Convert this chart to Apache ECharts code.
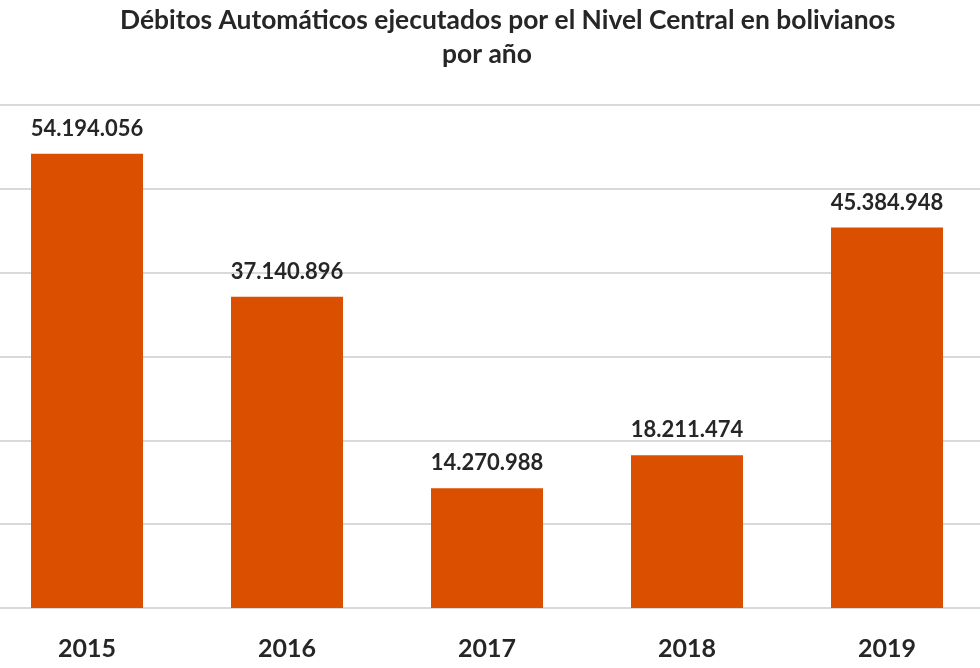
<!DOCTYPE html>
<html>
<head>
<meta charset="utf-8">
<script src="https://cdn.jsdelivr.net/npm/echarts@6/dist/echarts.min.js"></script>
<style>
  html, body { margin: 0; padding: 0; background: #fff; }
  #chart { width: 980px; height: 668px; }
</style>
</head>
<body>
<div id="chart"></div>
<script>
// datos del gráfico
var years = ['2015', '2016', '2017', '2018', '2019'];
var montos = [54194056, 37140896, 14270988, 18211474, 45384948];
var titulo1 = 'Débitos Automáticos ejecutados por el Nivel Central en bolivianos';
var titulo2 = 'por año';

// separador de miles con punto
function fmt(v) {
    return String(v).replace(/\B(?=(\d{3})+(?!\d))/g, '.');
}

var estiloTitulo = {
    fontFamily: 'Lato',
    fontWeight: 'bold',
    fontSize: 26.4,
    color: '#262626'
};

var chart = echarts.init(document.getElementById('chart'));
var option = {
    backgroundColor: '#ffffff',
    animation: false,
    title: [
        { text: titulo1, left: 115, top: 2, textStyle: estiloTitulo },
        { text: titulo2, left: 437, top: 36, textStyle: estiloTitulo }
    ],
    grid: {
        left: -13,
        width: 1000,
        top: 105,
        bottom: 60,
        outerBoundsMode: 'none'
    },
    xAxis: {
        type: 'category',
        data: years,
        axisTick: { show: false },
        axisLine: { lineStyle: { color: '#d9d9d9', width: 2 } },
        axisLabel: {
            margin: 28,
            fontFamily: 'Lato',
            fontWeight: 'bold',
            fontSize: 25,
            color: '#262626'
        }
    },
    yAxis: {
        type: 'value',
        min: 0,
        max: 60000000,
        interval: 10000000,
        axisLabel: { show: false },
        axisLine: { show: false },
        axisTick: { show: false },
        splitLine: { lineStyle: { color: '#d9d9d9', width: 2 } }
    },
    series: [{
        type: 'bar',
        data: montos,
        barWidth: '56%',
        itemStyle: { color: '#da4f00' },
        label: {
            show: true,
            position: 'top',
            distance: 14,
            formatter: function (p) { return fmt(p.value); },
            fontFamily: 'Lato',
            fontWeight: 'bold',
            fontSize: 22,
            color: '#262626'
        }
    }]
};
chart.setOption(option);
</script>
</body>
</html>
